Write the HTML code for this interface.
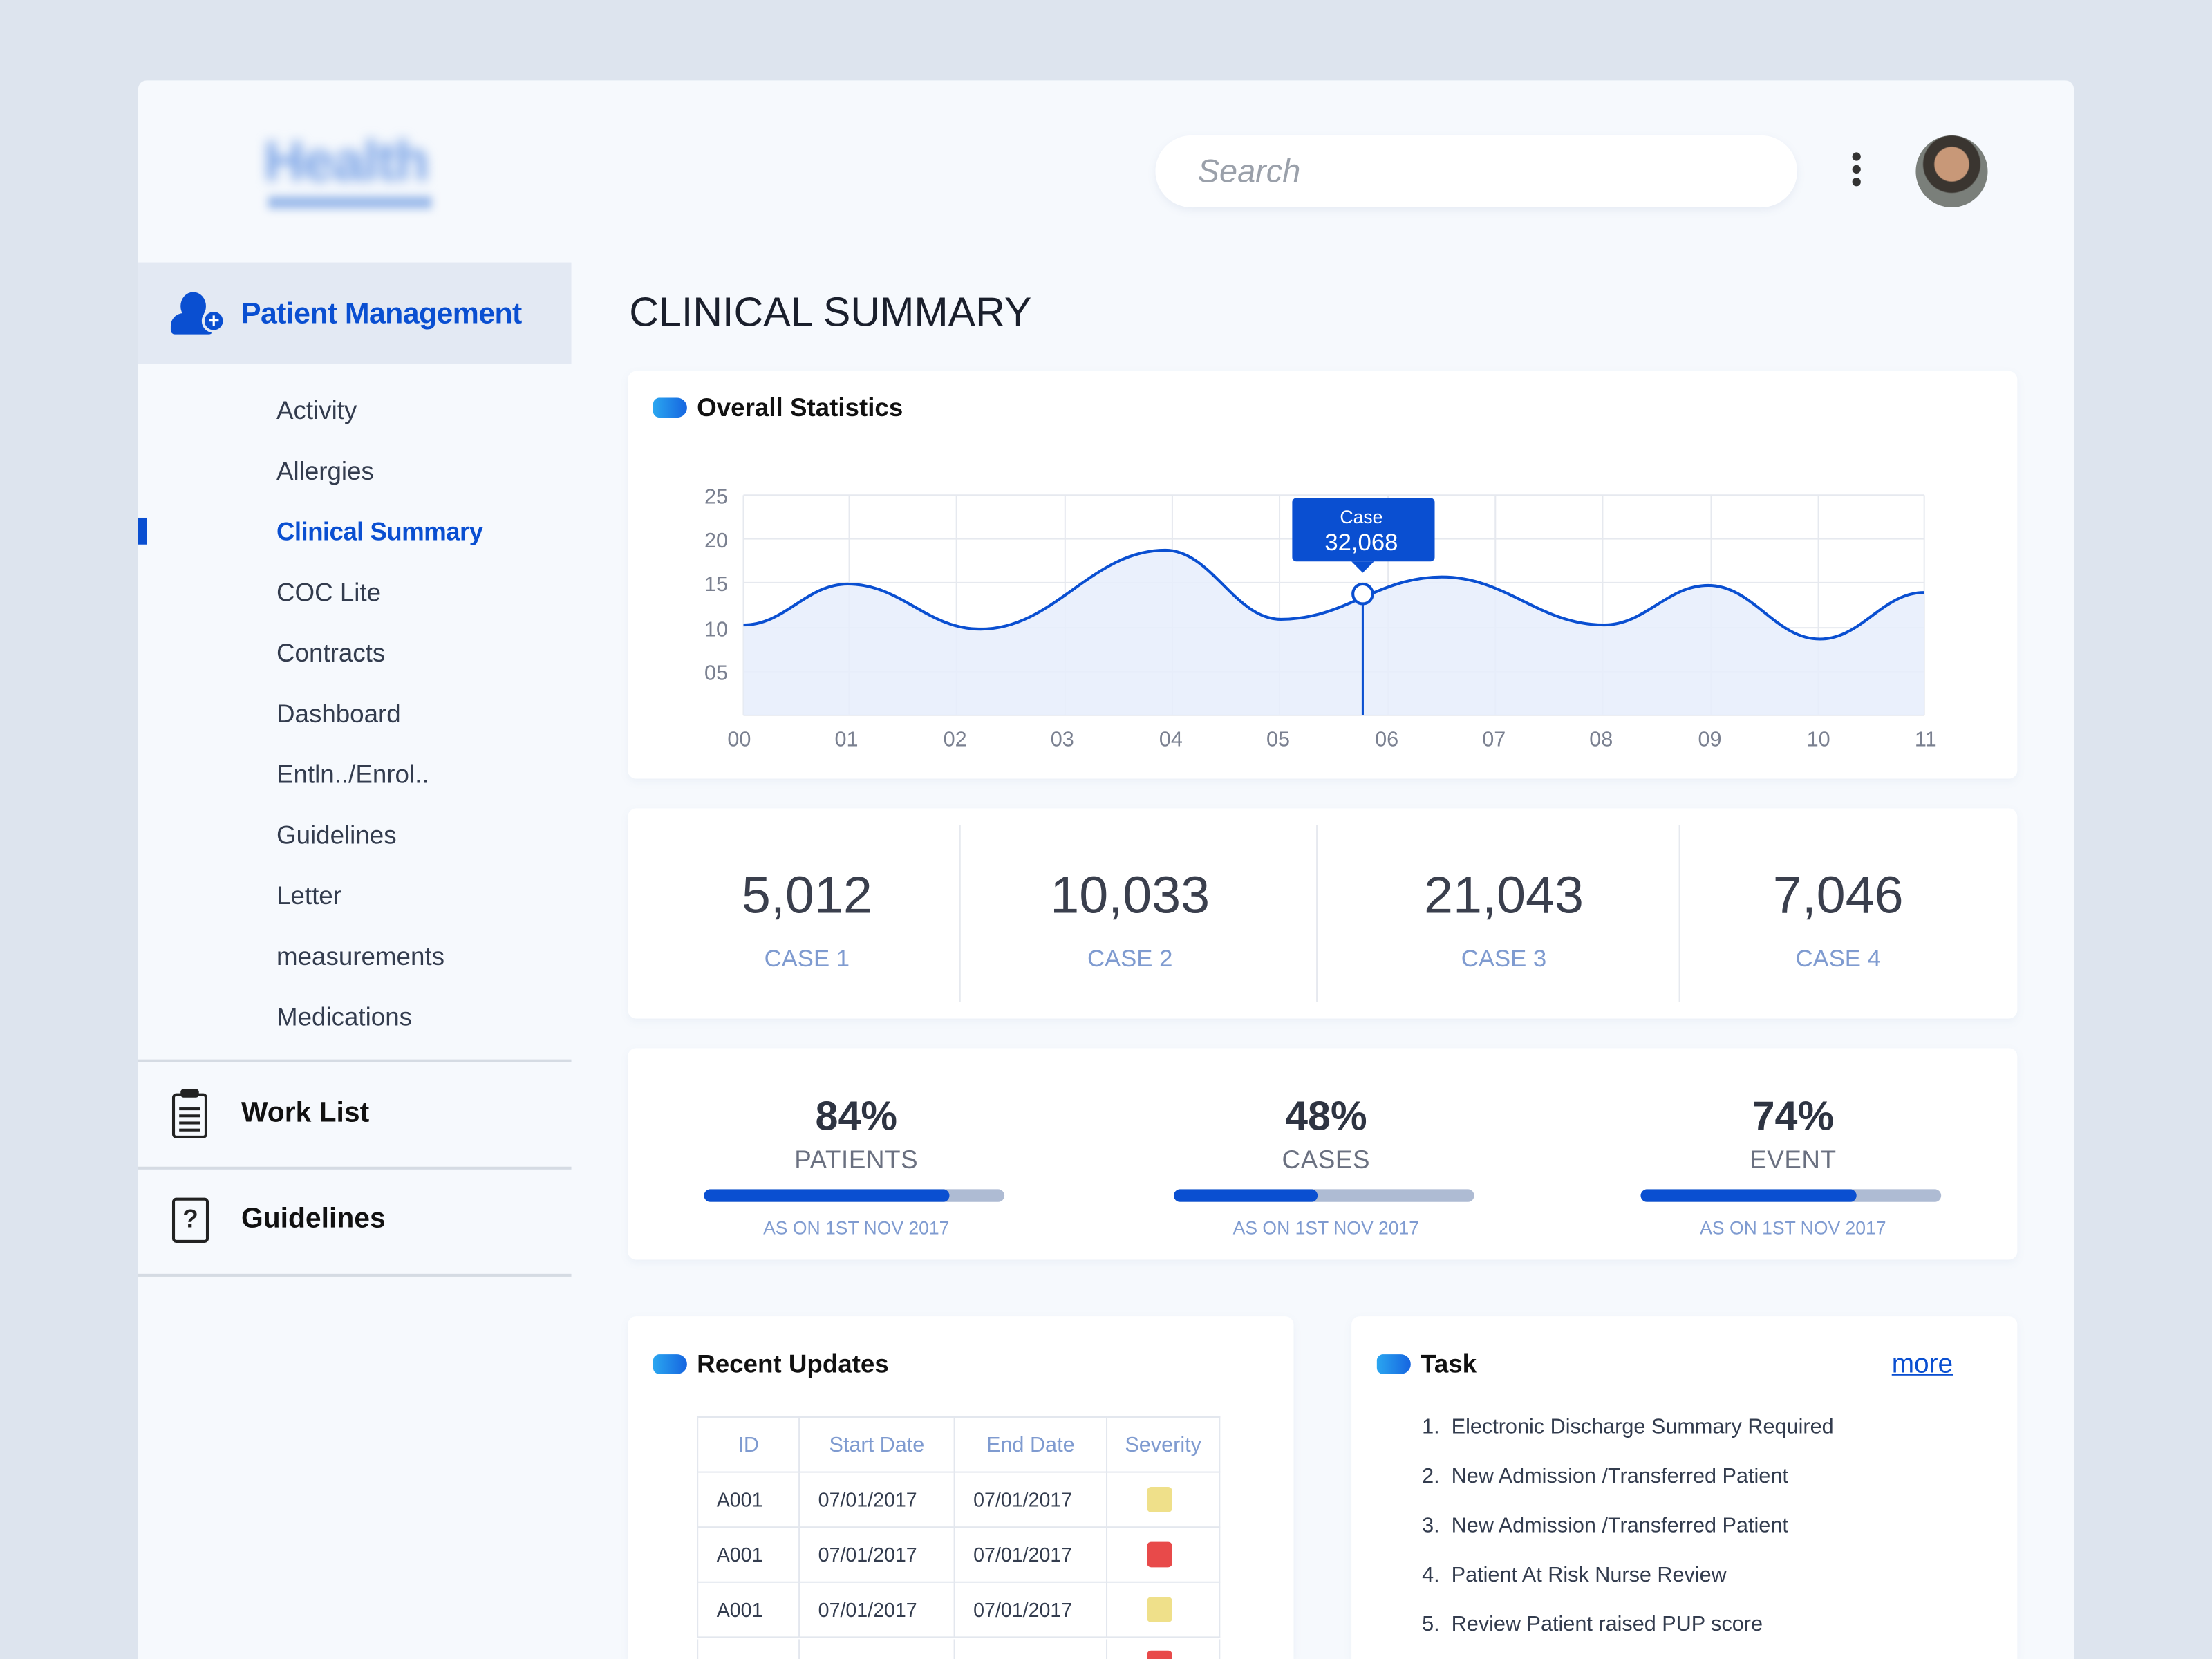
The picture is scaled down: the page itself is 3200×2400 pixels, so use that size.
<!DOCTYPE html>
<html><head><meta charset="utf-8"><style>
*{margin:0;padding:0;box-sizing:border-box}
html,body{width:3200px;height:2400px;overflow:hidden;background:#dde4ee}
#w{position:absolute;left:0;top:0;width:1568px;height:1176px;transform:scale(2.040816);transform-origin:0 0;font-family:"Liberation Sans",sans-serif;color:#333c4e;overflow:hidden}
.a{position:absolute;white-space:nowrap}
.card{position:absolute;background:#fff;border-radius:6px;box-shadow:0 2px 6px rgba(120,140,180,.08)}
.pill{position:absolute;width:24px;height:14px;border-radius:5px 8px 8px 5px;background:linear-gradient(90deg,#2aa6f0,#1665e0)}
.h{font-size:19px;font-weight:bold;color:#111}
.sub{font-size:18px;color:#333c4e}
.num{font-size:37px;font-weight:300;color:#3a3f4d;text-align:center;width:200px}
.lab{font-size:17px;color:#7f9bd0;text-align:center;width:200px}
.pct{font-size:29px;font-weight:bold;color:#2e3442;text-align:center;width:220px}
.pl{font-size:18px;color:#6a7080;text-align:center;width:220px;letter-spacing:.3px}
.bar{position:absolute;height:9px;border-radius:5px;background:#aebbd3;overflow:hidden}
.bar i{display:block;height:100%;background:#0a4fd1;border-radius:5px}
.as{font-size:13px;color:#7f9bd0;text-align:center;width:220px}
table{border-collapse:collapse;font-size:14px}
td,th{border:1px solid #e3e7ee;height:39px;padding-left:13px;text-align:left}
th{color:#7f9bd0;font-weight:normal;font-size:15px;text-align:center;padding:0}
.sq{display:inline-block;width:18px;height:18px;border-radius:3px;margin-left:15px;vertical-align:middle}
</style></head><body><div id="w">
<div style="position:absolute;left:98px;top:57px;width:1372px;height:1119px;background:#f6f9fd;border-radius:6px 6px 0 0"></div>
<div class="a" style="left:187px;top:93px;font-size:40px;font-weight:bold;color:#7aa3e6;filter:blur(4px);letter-spacing:-1px">Health</div>
<div class="a" style="left:190px;top:139px;width:116px;height:9px;background:#9dbbea;filter:blur(3px)"></div>
<div style="position:absolute;left:819px;top:96px;width:455px;height:51px;border-radius:26px;background:#fff;box-shadow:0 2px 6px rgba(120,140,180,.12)"></div>
<div class="a" style="left:849px;top:108px;font-size:23px;font-style:italic;color:#9aa0aa">Search</div>
<div class="a" style="left:1313px;top:108px;width:6px;height:6px;border-radius:3px;background:#333;box-shadow:0 9px 0 #333,0 18px 0 #333"></div>
<div class="a" style="left:1358px;top:96px;width:51px;height:51px;border-radius:26px;background:radial-gradient(circle at 50% 40%,#c89878 0 30%,#3a3530 32% 50%,#7a7f7a 52%)"></div>
<div style="position:absolute;left:98px;top:186px;width:307px;height:72px;background:#e3e9f3"></div>
<div class="a" style="left:128px;top:207px;width:18px;height:20px;border-radius:50%;background:#0a4fd1"></div>
<div class="a" style="left:121px;top:222px;width:30px;height:15px;border-radius:9px 9px 3px 3px;background:#0a4fd1"></div>
<div class="a" style="left:143px;top:219px;width:17px;height:17px;border-radius:50%;background:#0a4fd1;border:2px solid #e3e9f3;color:#fff;font-size:14px;line-height:12px;text-align:center;font-weight:bold">+</div>
<div class="a" style="left:171px;top:211px;font-size:21px;font-weight:bold;color:#0a4fd1;letter-spacing:-.3px">Patient Management</div>
<div class="a" style="left:98px;top:367px;width:6px;height:19px;background:#0a4fd1"></div>
<div class="a sub" style="left:196px;top:281px">Activity</div>
<div class="a sub" style="left:196px;top:324px">Allergies</div>
<div class="a sub" style="left:196px;top:367px;color:#0a4fd1;font-weight:bold;letter-spacing:-.3px">Clinical Summary</div>
<div class="a sub" style="left:196px;top:410px">COC Lite</div>
<div class="a sub" style="left:196px;top:453px">Contracts</div>
<div class="a sub" style="left:196px;top:496px">Dashboard</div>
<div class="a sub" style="left:196px;top:539px">Entln../Enrol..</div>
<div class="a sub" style="left:196px;top:582px">Guidelines</div>
<div class="a sub" style="left:196px;top:625px">Letter</div>
<div class="a sub" style="left:196px;top:668px">measurements</div>
<div class="a sub" style="left:196px;top:711px">Medications</div>
<div class="a" style="left:98px;top:751px;width:307px;height:2px;background:#d5dbe3"></div>
<div class="a" style="left:98px;top:827px;width:307px;height:2px;background:#d5dbe3"></div>
<div class="a" style="left:98px;top:903px;width:307px;height:2px;background:#d5dbe3"></div>
<div class="a" style="left:122px;top:775px;width:25px;height:32px;border:2px solid #222;border-radius:3px"></div>
<div class="a" style="left:128px;top:772px;width:13px;height:6px;background:#222;border-radius:2px"></div>
<div class="a" style="left:127px;top:785px;width:15px;height:2px;background:#222;box-shadow:0 5px 0 #222,0 10px 0 #222,0 15px 0 #222"></div>
<div class="a" style="left:171px;top:778px;font-size:20px;font-weight:bold;color:#111">Work List</div>
<div class="a" style="left:122px;top:849px;width:26px;height:32px;border:2px solid #222;border-radius:3px;font-size:18px;font-weight:bold;text-align:center;line-height:26px;color:#222">?</div>
<div class="a" style="left:171px;top:853px;font-size:20px;font-weight:bold;color:#111">Guidelines</div>
<div class="a" style="left:446px;top:206px;font-size:29px;font-weight:300;color:#1a1f2c">CLINICAL SUMMARY</div>

<div class="card" style="left:445px;top:263px;width:985px;height:289px"></div>
<div class="pill" style="left:463px;top:282px"></div>
<div class="a h" style="left:494px;top:279px;font-size:18px">Overall Statistics</div>
<svg class="a" style="left:0;top:0" width="1568" height="600" font-family="Liberation Sans" font-size="15" fill="#7a8090">
<g stroke="#e6e9ef" stroke-width="1">
<line x1="527" y1="351" x2="1364" y2="351"/><line x1="527" y1="382" x2="1364" y2="382"/><line x1="527" y1="413" x2="1364" y2="413"/><line x1="527" y1="445" x2="1364" y2="445"/><line x1="527" y1="476" x2="1364" y2="476"/><line x1="527" y1="507" x2="1364" y2="507"/>
<line x1="527" y1="351" x2="527" y2="507"/><line x1="602" y1="351" x2="602" y2="507"/><line x1="678" y1="351" x2="678" y2="507"/><line x1="755" y1="351" x2="755" y2="507"/><line x1="831" y1="351" x2="831" y2="507"/><line x1="907" y1="351" x2="907" y2="507"/><line x1="984" y1="351" x2="984" y2="507"/><line x1="1060" y1="351" x2="1060" y2="507"/><line x1="1136" y1="351" x2="1136" y2="507"/><line x1="1213" y1="351" x2="1213" y2="507"/><line x1="1289" y1="351" x2="1289" y2="507"/><line x1="1364" y1="351" x2="1364" y2="507"/>
</g>
<path d="M527,443 C556.6,443 571.4,414 601,414 C638.6,414 657.4,446 695,446 C747.4,446 773.6,390 826,390 C858.8,390 875.2,439 908,439 C953.6,439 976.4,409 1022,409 C1068,409 1091,443 1137,443 C1166.6,443 1181.4,415 1211,415 C1242.6,415 1258.4,453 1290,453 C1319.6,453 1334.4,420 1364,420 L1364,507 L527,507Z" fill="#e6edfb" fill-opacity=".85"/>
<path d="M527,443 C556.6,443 571.4,414 601,414 C638.6,414 657.4,446 695,446 C747.4,446 773.6,390 826,390 C858.8,390 875.2,439 908,439 C953.6,439 976.4,409 1022,409 C1068,409 1091,443 1137,443 C1166.6,443 1181.4,415 1211,415 C1242.6,415 1258.4,453 1290,453 C1319.6,453 1334.4,420 1364,420" fill="none" stroke="#0a4fd1" stroke-width="2"/>
<g text-anchor="end"><text x="516" y="357">25</text><text x="516" y="388">20</text><text x="516" y="419">15</text><text x="516" y="451">10</text><text x="516" y="482">05</text></g>
<g text-anchor="middle"><text x="524" y="529">00</text><text x="600" y="529">01</text><text x="677" y="529">02</text><text x="753" y="529">03</text><text x="830" y="529">04</text><text x="906" y="529">05</text><text x="983" y="529">06</text><text x="1059" y="529">07</text><text x="1135" y="529">08</text><text x="1212" y="529">09</text><text x="1289" y="529">10</text><text x="1365" y="529">11</text></g>
<line x1="966" y1="421" x2="966" y2="507" stroke="#0a4fd1" stroke-width="1.5"/>
<rect x="916" y="353" width="101" height="45" rx="3" fill="#0a4fd1"/>
<path d="M958,398 L966,406 L974,398Z" fill="#0a4fd1"/>
<text x="965" y="371" fill="#fff" font-size="13" text-anchor="middle">Case</text>
<text x="965" y="390" fill="#fff" font-size="17" text-anchor="middle">32,068</text>
<circle cx="966" cy="421" r="7" fill="#fff" stroke="#0a4fd1" stroke-width="2"/>
</svg>

<div class="card" style="left:445px;top:573px;width:985px;height:149px"></div>
<div class="a" style="left:680px;top:585px;width:1px;height:125px;background:#e6e9ef"></div>
<div class="a" style="left:933px;top:585px;width:1px;height:125px;background:#e6e9ef"></div>
<div class="a" style="left:1190px;top:585px;width:1px;height:125px;background:#e6e9ef"></div>
<div class="a num" style="left:472px;top:614px">5,012</div><div class="a lab" style="left:472px;top:670px">CASE 1</div>
<div class="a num" style="left:701px;top:614px">10,033</div><div class="a lab" style="left:701px;top:670px">CASE 2</div>
<div class="a num" style="left:966px;top:614px">21,043</div><div class="a lab" style="left:966px;top:670px">CASE 3</div>
<div class="a num" style="left:1203px;top:614px">7,046</div><div class="a lab" style="left:1203px;top:670px">CASE 4</div>

<div class="card" style="left:445px;top:743px;width:985px;height:150px"></div>
<div class="a pct" style="left:497px;top:776px">84%</div><div class="a pl" style="left:497px;top:812px">PATIENTS</div>
<div class="bar" style="left:499px;top:843px;width:213px"><i style="width:174px"></i></div>
<div class="a as" style="left:497px;top:863px">AS ON 1ST NOV 2017</div>
<div class="a pct" style="left:830px;top:776px">48%</div><div class="a pl" style="left:830px;top:812px">CASES</div>
<div class="bar" style="left:832px;top:843px;width:213px"><i style="width:102px"></i></div>
<div class="a as" style="left:830px;top:863px">AS ON 1ST NOV 2017</div>
<div class="a pct" style="left:1161px;top:776px">74%</div><div class="a pl" style="left:1161px;top:812px">EVENT</div>
<div class="bar" style="left:1163px;top:843px;width:213px"><i style="width:153px"></i></div>
<div class="a as" style="left:1161px;top:863px">AS ON 1ST NOV 2017</div>

<div class="card" style="left:445px;top:933px;width:472px;height:243px;border-radius:6px 6px 0 0"></div>
<div class="pill" style="left:463px;top:960px"></div>
<div class="a h" style="left:494px;top:957px;font-size:18px">Recent Updates</div>
<div class="a" style="left:494px;top:1004px;width:372px;height:172px;overflow:hidden">
<table style="width:371px">
<tr><th style="width:72px">ID</th><th style="width:110px">Start Date</th><th style="width:108px">End Date</th><th>Severity</th></tr>
<tr><td>A001</td><td>07/01/2017</td><td>07/01/2017</td><td><span class="sq" style="background:#efe08a"></span></td></tr>
<tr><td>A001</td><td>07/01/2017</td><td>07/01/2017</td><td><span class="sq" style="background:#e84a4a"></span></td></tr>
<tr><td>A001</td><td>07/01/2017</td><td>07/01/2017</td><td><span class="sq" style="background:#efe08a"></span></td></tr>
</table>
<div style="position:absolute;left:0;top:158px;width:371px;height:14px;border-left:1px solid #e3e7ee"></div>
<div style="position:absolute;left:72px;top:158px;width:1px;height:14px;background:#e3e7ee"></div>
<div style="position:absolute;left:182px;top:158px;width:1px;height:14px;background:#e3e7ee"></div>
<div style="position:absolute;left:290px;top:158px;width:1px;height:14px;background:#e3e7ee"></div>
<div style="position:absolute;left:370px;top:158px;width:1px;height:14px;background:#e3e7ee"></div>
<div style="position:absolute;left:319px;top:166px;width:18px;height:6px;border-radius:3px 3px 0 0;background:#e84a4a"></div>
</div>

<div class="card" style="left:958px;top:933px;width:472px;height:243px;border-radius:6px 6px 0 0"></div>
<div class="pill" style="left:976px;top:960px"></div>
<div class="a h" style="left:1007px;top:957px;font-size:18px">Task</div>
<div class="a" style="left:1341px;top:957px;font-size:19px;color:#0a4fd1;text-decoration:underline">more</div>
<div class="a" style="left:1008px;top:994px;font-size:15px;line-height:35px;color:#333c4e">1.&nbsp; Electronic Discharge Summary Required<br>2.&nbsp; New Admission /Transferred Patient<br>3.&nbsp; New Admission /Transferred Patient<br>4.&nbsp; Patient At Risk Nurse Review<br>5.&nbsp; Review Patient raised PUP score</div>
</div></body></html>
